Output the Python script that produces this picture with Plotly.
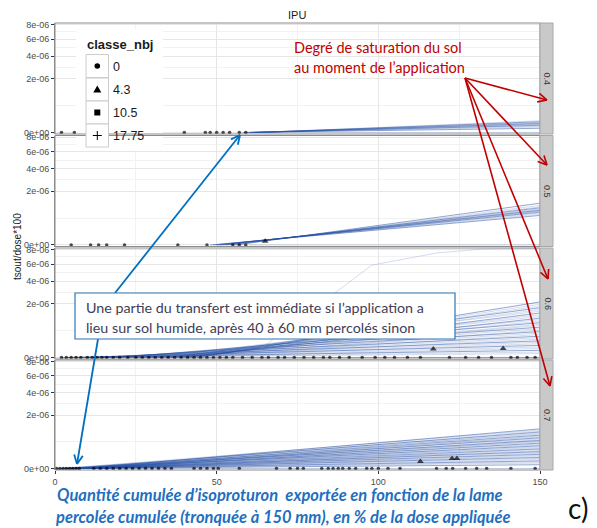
import numpy as np
import plotly.graph_objects as go

# ---------------- data ----------------
title_text = "IPU"
y_title = "tsout/dose*100"
facets = ["0.4", "0.5", "0.6", "0.7"]
x_ticks = [0, 50, 100, 150]
x_minor = [25, 75, 125]
y_ticks_e6 = [0, 2, 4, 6, 8]                 # values in units of 1e-6
y_tick_labels = ["0e+00", "2e-06", "4e-06", "6e-06", "8e-06"]
legend_title = "classe_nbj"
classes = ["0", "4.3", "10.5", "17.75"]
x_end = 150                                    # percolated depth truncated at 150 mm

# simulated cumulative curves: start (x, 0) -> end (150, value x 1e-6)
c04_start = [58, 59, 59.5, 60, 60, 60.5, 61, 61, 62, 62, 63, 60]
c04_end = [0.012, 0.02, 0.028, 0.035, 0.042, 0.048, 0.055, 0.062, 0.07, 0.08, 0.095, 0.0]

c05_start = [48, 49, 49, 50, 50, 51, 51, 52, 52, 53, 54, 55, 56, 60]
c05_end = [0.6, 0.65, 0.7, 0.74, 0.78, 0.8, 0.83, 0.86, 0.9, 0.95, 1.0, 1.08, 1.2, 0.0]

c06_start = [44, 40, 42, 36, 38, 30, 41, 34, 28, 39, 25, 33, 20, 37, 31, 18, 27,
             35, 15, 24, 32, 12, 22, 29, 9, 19, 26, 6, 16, 23, 4, 13, 8, 2]
c06_end = [2.12, 1.95, 1.82, 1.7, 1.58, 1.47, 1.36, 1.25, 1.15, 1.06, 0.98, 0.9,
           0.83, 0.76, 0.7, 0.63, 0.57, 0.51, 0.46, 0.41, 0.36, 0.31, 0.27, 0.23,
           0.19, 0.16, 0.13, 0.1, 0.075, 0.055, 0.035, 0.02, 0.01, 0.0]
# one isolated fast-transfer curve in the 0.6 panel
c06_fast_x = [60, 98, 118, 132, 150]
c06_fast_y = [0.0, 5.86, 7.5, 8.07, 8.2]

c07_start = [8, 3, 10, 5, 12, 1, 7, 14, 4, 9, 2, 11, 6, 13, 0.5, 8.5, 3.5, 10.5, 5.5,
             12.5, 1.5, 7.5, 15, 4.5, 9.5, 2.5, 11.5, 6.5, 13.5, 1, 8, 3, 10, 5, 12, 2, 7, 0]
c07_end = [1.1, 1.04, 0.98, 0.93, 0.88, 0.83, 0.78, 0.74, 0.7, 0.66, 0.62, 0.58, 0.55,
           0.52, 0.49, 0.45, 0.42, 0.39, 0.36, 0.33, 0.3, 0.27, 0.25, 0.22, 0.2, 0.18,
           0.16, 0.14, 0.12, 0.1, 0.085, 0.07, 0.055, 0.04, 0.03, 0.02, 0.01, 0.0]

# observed points (x, value x 1e-6, classe_nbj)
p04_x = [2, 6, 40, 46.5, 48, 50, 52, 54, 57, 59]
p04_y = [0] * 10
p04_c = ["0"] * 10

p05_x = [5, 11, 13.5, 16, 21.5, 38, 47, 55, 57, 59, 65]
p05_y = [0] * 10 + [0.01]
p05_c = ["0"] * 10 + ["4.3"]

p06_x = [2, 3.5, 5, 6.5, 8, 10, 11.5, 13, 14.5, 16, 18, 20, 22.5, 25, 27, 29, 31, 33,
         35, 37, 39, 41, 43, 45, 47, 49, 51, 53, 55, 58, 61, 64, 66, 69, 71, 74, 77,
         80, 83, 85, 88, 91, 95, 99, 102, 105, 109, 113, 122, 127, 131, 135, 141, 143,
         146, 148.5, 117, 138.6]
p06_y = [0] * 56 + [0.05, 0.056]
p06_c = ["0"] * 56 + ["4.3", "4.3"]

p07_x = [0.5, 1.5, 2.5, 3.5, 4.5, 5.5, 6.5, 7.5, 12, 14, 16, 18, 20, 22, 24, 26, 28,
         30, 32, 34, 36, 43, 45, 47, 49, 50.5, 57, 68.5, 72.7, 75, 76.8, 82.5, 84.5,
         86, 87.6, 89, 91, 93, 96.4, 98, 100, 103, 106.7, 118, 121, 123, 127, 130.4,
         133.5, 141, 148.5, 113, 122.8, 124.3]
p07_y = [0] * 51 + [0.035, 0.07, 0.07]
p07_c = ["0"] * 51 + ["4.3", "4.3", "4.3"]

curves = [(c04_start, c04_end), (c05_start, c05_end), (c06_start, c06_end), (c07_start, c07_end)]
points = [(p04_x, p04_y, p04_c), (p05_x, p05_y, p05_c), (p06_x, p06_y, p06_c), (p07_x, p07_y, p07_c)]

red_note = ["Degré de saturation du sol", "au moment de l’application"]
blue_note = ["Une partie du transfert est immédiate si l’application a",
             "lieu sur sol humide, après 40 à 60 mm percolés sinon"]
caption = ["Quantité cumulée d’isoproturon  exportée en fonction de la lame",
           "percolée cumulée (tronquée à 150 mm), en % de la dose appliquée"]
panel_tag = "c)"

# ---------------- layout geometry (screen pixels) ----------------
SCREEN_W, SCREEN_H = 597, 528
OFF = 8                                  # page body margin offsets the figure
W, H = SCREEN_W - OFF, SCREEN_H - OFF
L, R, T, B = 55, 540, 23, 470            # plot area in screen pixels
panel_px = [(23, 134), (135.5, 246.5), (248, 359), (360, 470)]
y_range = [-0.04, 2.87]


def fx(px):
    return (px - L) / (R - L)


def fy(py):
    return (B - py) / (B - T)


def tr(v):  # sqrt scale, in units of 1e-6
    return np.sqrt(np.asarray(v, dtype=float))


symbols = {"0": "circle", "4.3": "triangle-up", "10.5": "square", "17.75": "cross-thin"}
msize = {"0": 3.5, "4.3": 6, "10.5": 5, "17.75": 6}

fig = go.Figure()
for i in range(4):
    xr = "x" if i == 0 else f"x{i+1}"
    yr = "y" if i == 0 else f"y{i+1}"
    st, en = curves[i]
    for j, (s, e) in enumerate(zip(st, en)):
        a = 0.5 if j % 3 == 0 else 0.2
        fig.add_trace(go.Scatter(x=[s, x_end], y=tr([0, e]), mode="lines",
                                 line=dict(color=f"rgba(38,80,165,{a})", width=1),
                                 xaxis=xr, yaxis=yr, showlegend=False, hoverinfo="skip"))
    if i == 2:
        fig.add_trace(go.Scatter(x=c06_fast_x, y=tr(c06_fast_y), mode="lines",
                                 line=dict(color="rgba(120,160,215,0.35)", width=1),
                                 xaxis=xr, yaxis=yr, showlegend=False, hoverinfo="skip"))
    px_, py_, pc_ = points[i]
    fig.add_trace(go.Scatter(x=px_, y=tr(py_), mode="markers", cliponaxis=True,
                             marker=dict(color="black", symbol=[symbols[c] for c in pc_],
                                         size=[msize[c] for c in pc_], line=dict(width=0)),
                             xaxis=xr, yaxis=yr, showlegend=False, hoverinfo="skip"))

grid_major = "#e6e6e6"
grid_minor = "#f2f2f2"
tick_font = dict(family="Liberation Sans, Arial", size=9, color="#4d4d4d")
y_minor = list((tr(y_ticks_e6[:-1]) + tr(y_ticks_e6[1:])) / 2)
layout_axes = {}
for i in range(4):
    xa = "xaxis" if i == 0 else f"xaxis{i+1}"
    ya = "yaxis" if i == 0 else f"yaxis{i+1}"
    top, bot = panel_px[i]
    layout_axes[xa] = dict(domain=[0, 1], range=[0, 150], anchor="y" if i == 0 else f"y{i+1}",
                           tickvals=x_ticks, ticktext=[str(v) for v in x_ticks],
                           showticklabels=(i == 3), ticks="outside" if i == 3 else "",
                           ticklen=3, tickcolor="#333333", tickfont=tick_font,
                           showgrid=True, gridcolor=grid_major, gridwidth=1,
                           minor=dict(tickvals=x_minor, showgrid=True, gridcolor=grid_minor, ticklen=0),
                           zeroline=False, showline=False, fixedrange=True, automargin=False)
    layout_axes[ya] = dict(domain=[fy(bot), fy(top)], range=y_range,
                           anchor="x" if i == 0 else f"x{i+1}",
                           tickvals=list(tr(y_ticks_e6)), ticktext=y_tick_labels,
                           ticks="outside", ticklen=3, tickcolor="#333333", tickfont=tick_font,
                           showgrid=True, gridcolor=grid_major, gridwidth=1,
                           minor=dict(tickvals=y_minor, showgrid=True, gridcolor=grid_minor, ticklen=0),
                           zeroline=False, showline=True, linecolor="#8a8a8a", linewidth=1,
                           fixedrange=True, automargin=False)

shapes = []
annotations = []


def ann(text, x, y, size, color, family, xanchor="left", yanchor="middle", angle=0):
    annotations.append(dict(text=text, x=fx(x), y=fy(y), xref="paper", yref="paper",
                            xanchor=xanchor, yanchor=yanchor, showarrow=False, textangle=angle,
                            font=dict(size=size, color=color, family=family)))


def rect(x0, y0, x1, y1, line_color, fill, width=1):
    shapes.append(dict(type="rect", xref="paper", yref="paper", x0=fx(x0), x1=fx(x1),
                       y0=fy(y1), y1=fy(y0), line=dict(color=line_color, width=width),
                       fillcolor=fill, layer="above"))


def seg(x0, y0, x1, y1, color, width):
    shapes.append(dict(type="line", xref="paper", yref="paper", x0=fx(x0), y0=fy(y0),
                       x1=fx(x1), y1=fy(y1), line=dict(color=color, width=width), layer="above"))


def arrow(x0, y0, x1, y1, color, width=1.6, head=10, ang=26):
    seg(x0, y0, x1, y1, color, width)
    d = np.arctan2(y1 - y0, x1 - x0)
    for s in (1, -1):
        a = d + np.pi + s * np.radians(ang)
        seg(x1 + head * np.cos(a), y1 + head * np.sin(a), x1, y1, color, width)


# legend background (white) then panel borders then strips
rect(76, 29, 163, 150, "rgba(0,0,0,0)", "white", 0)
for i, (top, bot) in enumerate(panel_px):
    rect(L, top, R, bot, "#8c8c8c", "rgba(0,0,0,0)", 1)
    rect(R, top, R + 13, bot, "#a8a8a8", "#c9c9c9", 1)
    ann(facets[i], R + 7, (top + bot) / 2, 9, "#333333", "Liberation Sans, Arial",
        xanchor="center", angle=90)

# legend keys
key_rows = [66, 89.5, 112.5, 135.5]
for k, cy in enumerate(key_rows):
    rect(86, cy - 11.5, 108.5, cy + 11.5, "#cccccc", "white", 1)
    ann(classes[k], 111, cy + 0.5, 12.5, "#1a1a1a", "Liberation Sans, Arial")
cx = 97.3
shapes.append(dict(type="circle", xref="paper", yref="paper", x0=fx(cx - 2.8), x1=fx(cx + 2.8),
                   y0=fy(key_rows[0] + 2.8), y1=fy(key_rows[0] - 2.8), fillcolor="black",
                   line=dict(width=0), layer="above"))
ty = key_rows[1]
shapes.append(dict(type="path", xref="paper", yref="paper",
                   path=f"M {fx(cx-4)} {fy(ty+3)} L {fx(cx+4)} {fy(ty+3)} L {fx(cx)} {fy(ty-4)} Z",
                   fillcolor="black", line=dict(width=0), layer="above"))
sy = key_rows[2]
shapes.append(dict(type="rect", xref="paper", yref="paper", x0=fx(cx - 3), x1=fx(cx + 3),
                   y0=fy(sy + 3), y1=fy(sy - 3), fillcolor="black", line=dict(width=0), layer="above"))
py = key_rows[3]
seg(cx - 4.5, py, cx + 4.5, py, "black", 1)
seg(cx, py - 4.5, cx, py + 4.5, "black", 1)
ann("<b>" + legend_title + "</b>", 85, 45, 13, "#1a1a1a", "Liberation Sans, Arial")

# titles
ann(title_text, 297, 15, 11, "#1a1a1a", "Liberation Sans, Arial", xanchor="center")
ann(y_title, 17, 247, 10, "#1a1a1a", "Liberation Sans, Arial", xanchor="center", angle=-90)

# red note + arrows
red = "#c00000"
ann(red_note[0], 292, 48, 14.5, red, "Lato")
ann(red_note[1], 292, 68, 14.5, red, "Lato")
for tx, ty_ in [(547, 100), (547, 165), (548, 279), (550, 386)]:
    arrow(465, 78, tx, ty_, red)

# blue box + arrows
blue = "#0070c0"
arrow(115, 293, 240, 135, blue, width=1.8)
arrow(98, 339, 77, 464, blue, width=1.8)
rect(75, 293, 455, 339, "#2e75b6", "white", 1.2)
ann(blue_note[0], 84, 307, 14.3, "#404058", "Lato")
ann(blue_note[1], 84, 327, 14.3, "#404058", "Lato")

# caption
ann("<b><i>" + caption[0] + "</i></b>", 280, 495, 16.5, "#1f6fc0", "Lato", xanchor="center")
ann("<b><i>" + caption[1] + "</i></b>", 283, 517, 16.5, "#1f6fc0", "Lato", xanchor="center")
ann(panel_tag, 578, 508, 28, "#111111", "Lato", xanchor="center")

fig.update_layout(width=W, height=H,
                  margin=dict(l=L - OFF, r=SCREEN_W - R, t=T - OFF, b=SCREEN_H - B, autoexpand=False),
                  paper_bgcolor="white", plot_bgcolor="white", showlegend=False,
                  shapes=shapes, annotations=annotations, **layout_axes)
fig.write_html("out.html")
